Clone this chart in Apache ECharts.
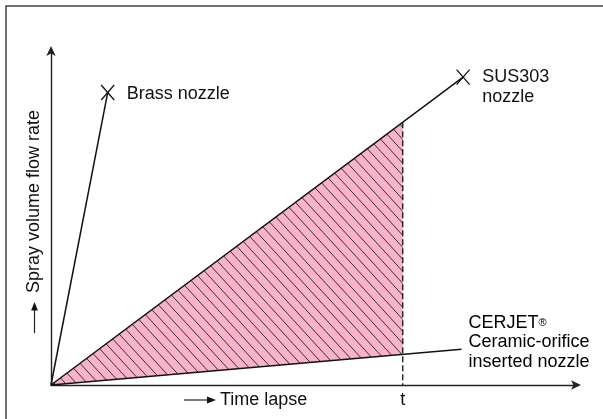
<!DOCTYPE html>
<html>
<head>
<meta charset="utf-8">
<script src="https://cdn.jsdelivr.net/npm/echarts@6/dist/echarts.min.js"></script>
<style>
  html, body { margin: 0; padding: 0; background: #fff; }
  #chart { width: 603px; height: 419px; }
</style>
</head>
<body>
<div id="chart"></div>
<script>
const FONT = '"Liberation Sans", Arial, Helvetica, sans-serif';

// Time axis: the moment t, and its tick label
const tValue = 67;
const tickLabels = ['t'];

// Flow-rate growth of each nozzle type (arbitrary units, start at the origin)
const brassLine = [[0, 0], [10.8, 87.3]];
const susLine = [[0, 0], [78.5, 91.9]];
const cerjetLine = [[0, 0], [78.2, 10.7]];

// Region between SUS303 and CERJET up to time t
const shadedRegion = [[0, 0], [tValue, 78.4], [tValue, 9.2]];
const tDrop = [[tValue, 78.4], [tValue, 0]];

// End markers (×) with their names
const markerPoints = [[10.8, 87.3], [78.5, 91.9]];
const markerNames = ['Brass nozzle', 'SUS303\nnozzle'];
const cerjetName = ['CERJET', '®', 'Ceramic-orifice', 'inserted nozzle'];

const axisTitles = { x: 'Time lapse', y: 'Spray volume flow rate' };

// Pink fill with diagonal hatch lines
function makeHatch() {
  const w = 11, h = 12;
  const c = document.createElement('canvas');
  c.width = w; c.height = h;
  const g = c.getContext('2d');
  g.fillStyle = '#f8b2c9';
  g.fillRect(0, 0, w, h);
  g.strokeStyle = '#2a2a2a';
  g.lineWidth = 0.95;
  [-w, 0, w].forEach(function (dx) {
    g.beginPath();
    g.moveTo(dx - w, -h);
    g.lineTo(dx + 2 * w, 2 * h);
    g.stroke();
  });
  return c;
}
const hatch = makeHatch();

const chart = echarts.init(document.getElementById('chart'), null, { renderer: 'canvas' });

const lineStyle = { color: '#111', width: 1.5 };

function plainLine(name, data) {
  return {
    name: name, type: 'line', data: data, symbol: 'none', silent: true,
    lineStyle: lineStyle, z: 4, animation: false
  };
}

chart.setOption({
  animation: false,
  backgroundColor: '#fff',
  grid: { left: 51, right: 27, top: 50, bottom: 34 },
  xAxis: {
    type: 'value', min: 0, max: 100,
    splitLine: { show: false },
    axisTick: { show: false },
    axisLine: {
      show: true, symbol: ['none', 'arrow'], symbolSize: [7, 10], symbolOffset: [0, 5],
      lineStyle: { color: '#222', width: 1.4 }
    },
    axisLabel: {
      show: true, customValues: [tValue],
      formatter: function () { return tickLabels[0]; },
      color: '#111', fontFamily: FONT, fontSize: 18, margin: 6
    }
  },
  yAxis: {
    type: 'value', min: 0, max: 100,
    splitLine: { show: false },
    axisTick: { show: false },
    axisLabel: { show: false },
    axisLine: {
      show: true, symbol: ['none', 'arrow'], symbolSize: [7, 10], symbolOffset: [0, 4],
      lineStyle: { color: '#222', width: 1.4 }
    }
  },
  graphic: [
    // outer frame (top and left edges)
    { type: 'polyline', shape: { points: [[6, 419], [6, 6], [603, 6]] },
      style: { stroke: '#444', lineWidth: 1.5, fill: null }, silent: true },
    // x-axis title with arrow
    { type: 'line', shape: { x1: 184, y1: 400, x2: 209, y2: 400 },
      style: { stroke: '#222', lineWidth: 1.2 } },
    { type: 'polygon', shape: { points: [[216, 400], [207, 396.6], [207, 403.4]] },
      style: { fill: '#111' } },
    { type: 'text', x: 220, y: 400,
      style: { text: axisTitles.x, font: '18px ' + FONT, fill: '#111', verticalAlign: 'middle' } },
    // y-axis title with arrow (rotated)
    { type: 'line', shape: { x1: 34.5, y1: 333, x2: 34.5, y2: 309 },
      style: { stroke: '#222', lineWidth: 1.2 } },
    { type: 'polygon', shape: { points: [[34.5, 302], [31.1, 310.5], [37.9, 310.5]] },
      style: { fill: '#111' } },
    { type: 'text', x: 34.5, y: 293, rotation: Math.PI / 2,
      style: { text: axisTitles.y, font: '18px ' + FONT, fill: '#111',
               align: 'left', verticalAlign: 'middle' } }
  ],
  series: [
    {
      name: 'shaded', type: 'custom', data: shadedRegion, z: 1, silent: true,
      renderItem: function (params, api) {
        if (params.dataIndex !== 0) return null;
        const pts = shadedRegion.map(function (p) { return api.coord(p); });
        return {
          type: 'polygon', shape: { points: pts },
          style: { fill: { image: hatch, repeat: 'repeat' }, stroke: null }
        };
      }
    },
    {
      name: 'tDrop', type: 'line', data: tDrop, symbol: 'none', silent: true, z: 3,
      lineStyle: { color: '#111', width: 1.3, type: [6, 3] }
    },
    plainLine('Brass nozzle', brassLine),
    plainLine('SUS303 nozzle', susLine),
    plainLine('CERJET', cerjetLine),
    {
      name: 'markers', type: 'custom', data: markerPoints, z: 5, silent: true,
      renderItem: function (params, api) {
        const p = api.coord([api.value(0), api.value(1)]);
        const sx = 6.5, sy = 7.5;
        const name = markerNames[params.dataIndex];
        const twoLine = name.indexOf('\n') >= 0;
        return {
          type: 'group',
          children: [
            { type: 'line', shape: { x1: p[0] - sx, y1: p[1] - sy, x2: p[0] + sx, y2: p[1] + sy },
              style: { stroke: '#111', lineWidth: 1.3 } },
            { type: 'line', shape: { x1: p[0] + sx, y1: p[1] - sy, x2: p[0] - sx, y2: p[1] + sy },
              style: { stroke: '#111', lineWidth: 1.3 } },
            { type: 'text', x: p[0] + 19, y: twoLine ? p[1] - 9.5 : p[1] + 1,
              style: { text: name, font: '18px ' + FONT, fill: '#111', lineHeight: 19.5,
                       verticalAlign: twoLine ? 'top' : 'middle' } }
          ]
        };
      }
    },
    {
      name: 'cerjetLabel', type: 'custom', data: [cerjetLine[1]], z: 5, silent: true,
      renderItem: function (params, api) {
        const p = api.coord([api.value(0), api.value(1)]);
        return {
          type: 'text', x: p[0] + 7, y: p[1] - 36,
          style: {
            text: '{a|' + cerjetName[0] + '}{r|' + cerjetName[1] + '}\n{a|' + cerjetName[2] + '}\n{a|' + cerjetName[3] + '}',
            verticalAlign: 'top',
            rich: {
              a: { fontFamily: FONT, fontSize: 18, color: '#111', lineHeight: 19.5 },
              r: { fontFamily: FONT, fontSize: 11, color: '#111', lineHeight: 19.5 }
            }
          }
        };
      }
    }
  ]
});
</script>
</body>
</html>
